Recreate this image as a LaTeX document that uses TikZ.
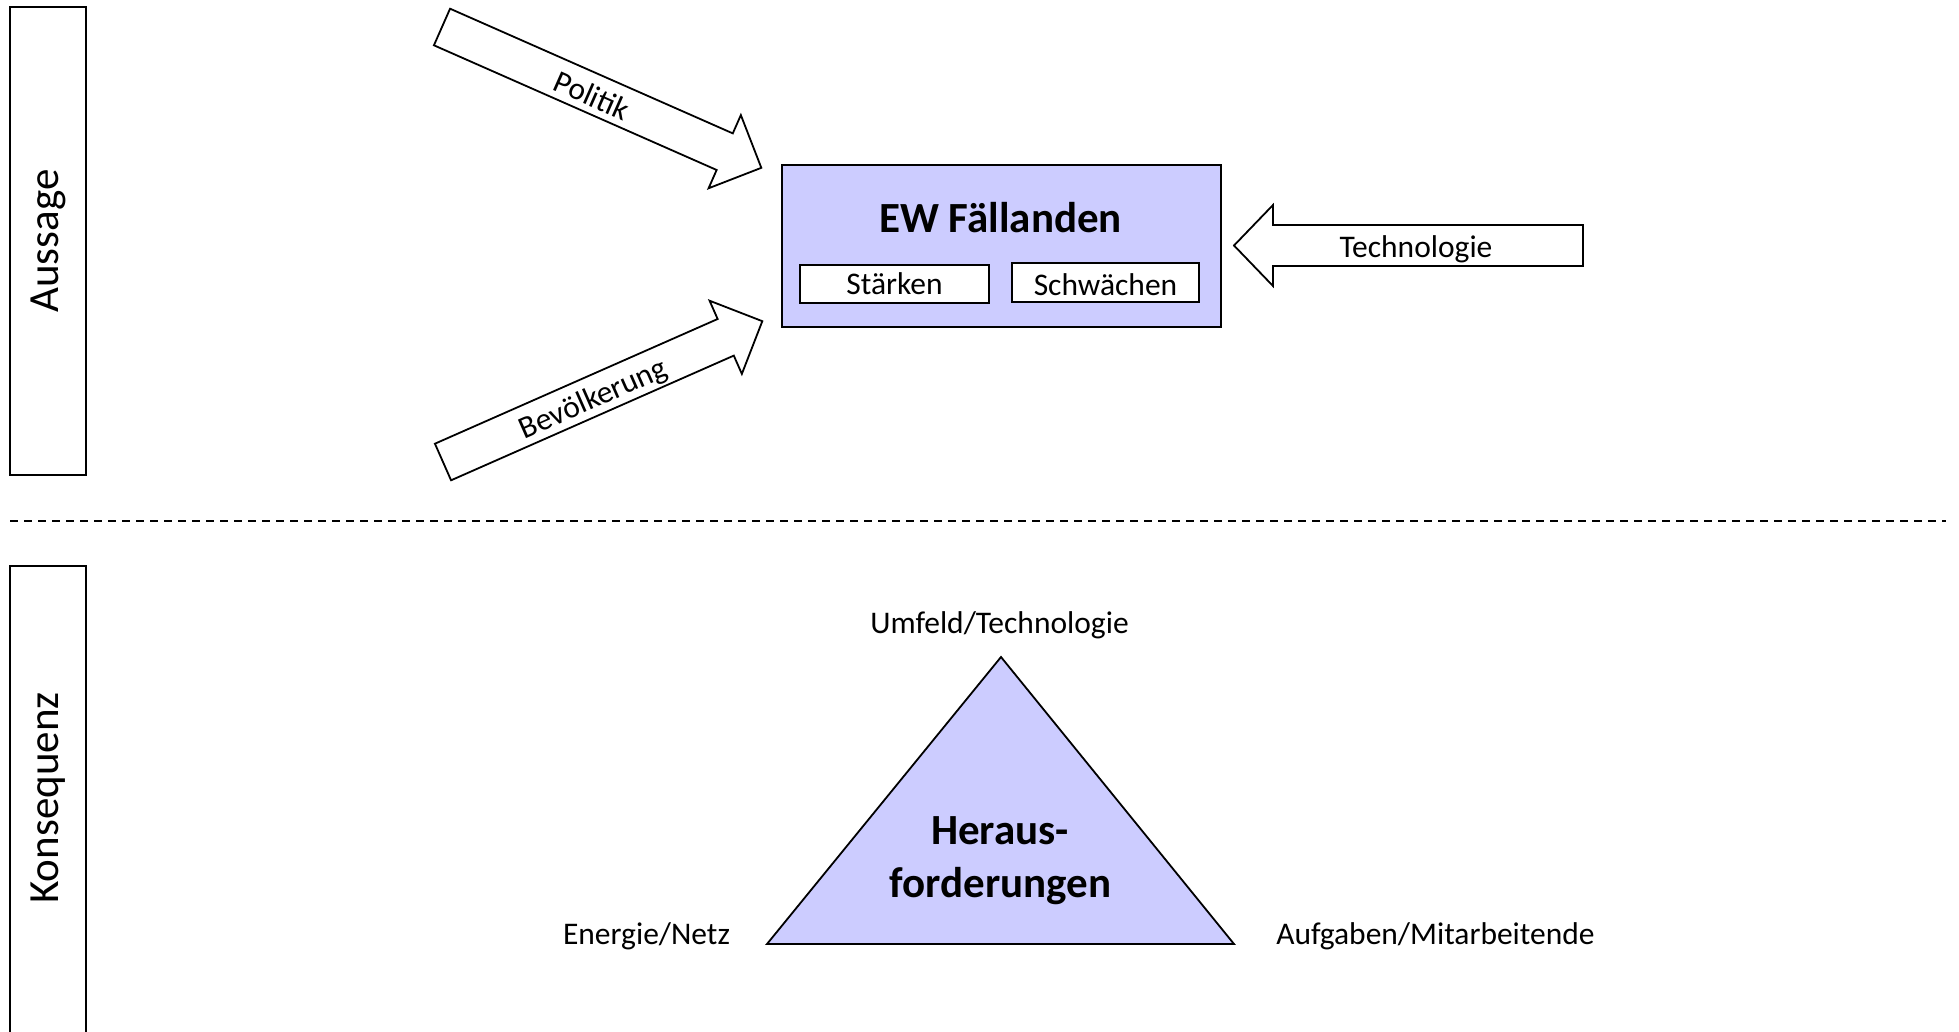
\documentclass[tikz,border=0pt]{standalone}
\usepackage{fontspec}
\setmainfont{Carlito}
\definecolor{lav}{RGB}{204,204,255}
\begin{document}
\begin{tikzpicture}[x=0.5pt,y=-0.5pt,
  box/.style={draw=black,line width=1pt},
  arrowbox/.style={draw=black,line width=0.9pt,fill=white,line join=miter},
  reg/.style={font=\fontsize{15.75}{19}\selectfont,inner sep=0pt},
  big/.style={font=\fontsize{21.5}{24}\selectfont,inner sep=0pt},
  bigb/.style={font=\fontsize{21.5}{24}\selectfont\bfseries,inner sep=0pt}]
\clip (0,0) rectangle (1959,1032);
\fill[white] (0,0) rectangle (1959,1032);
% side bars
\draw[box] (10,7) rectangle (86,475);
\node[big,rotate=90] (aussage) at (48,241) {Aussage};
\draw[box] (10,566) rectangle (86,1045);
\node[big,rotate=90] (konsequenz) at (48,798) {Konsequenz};
% dashed separator
\coordinate (dl) at (10,521);
\coordinate (dr) at (1946,521);
\draw[line width=1pt,dash pattern=on 4pt off 3pt] (dl) -- (dr);
% main box
\node[box,fill=lav,minimum width=219.5pt,minimum height=81pt,anchor=north west,inner sep=0pt] (ew) at (781,164) {};
\node[bigb,anchor=base] (ewt) at (1000.5,233) {EW Fällanden};
\node[box,fill=white,minimum width=94.5pt,minimum height=19pt,inner sep=0pt] (st) at (894.5,284) {};
\node[reg,anchor=base] (stt) at (894.5,294) {Stärken};
\node[box,fill=white,minimum width=93.5pt,minimum height=19.5pt,inner sep=0pt] (sw) at (1105.5,282.5) {};
\node[reg,anchor=base] (swt) at (1105.5,295) {Schwächen};
% Politik arrow
\coordinate (pol) at (442,27);
\begin{scope}[shift={(pol)},rotate=-23.8]
\draw[arrowbox] (0,-20) -- (309,-20) -- (309,-40) -- (349,0) -- (309,40) -- (309,20) -- (0,20) -- cycle;
\node[reg,transform shape] (polt) at (165,2) {Politik};
\end{scope}
% Bevoelkerung arrow
\coordinate (bev) at (443,462);
\begin{scope}[shift={(bev)},rotate=23.8]
\draw[arrowbox] (0,-20) -- (309,-20) -- (309,-40) -- (349,0) -- (309,40) -- (309,20) -- (0,20) -- cycle;
\node[reg,transform shape] (bevt) at (163,4) {Bevölkerung};
\end{scope}
% Technologie arrow
\draw[arrowbox] (1583,225) -- (1273,225) -- (1273,205) -- (1234,245.5) -- (1273,286) -- (1273,266) -- (1583,266) -- cycle;
\node[reg,anchor=base] (tech) at (1416,257) {Technologie};
% triangle
\coordinate (ta) at (1001,657);
\coordinate (tl) at (767,944);
\coordinate (tr) at (1234,944);
\draw[fill=lav,draw=black,line width=0.9pt,line join=miter] (ta) -- (tr) -- (tl) -- cycle;
\node[bigb,anchor=base] (her1) at (1000,844) {Heraus-};
\node[bigb,anchor=base] (her2) at (1000.5,897) {forderungen};
\node[reg,anchor=base] (umf) at (999.5,633) {Umfeld/Technologie};
\node[reg,anchor=base] (ene) at (646.5,944) {Energie/Netz};
\node[reg,anchor=base] (auf) at (1435.5,944) {Aufgaben/Mitarbeitende};
\end{tikzpicture}
\end{document}
